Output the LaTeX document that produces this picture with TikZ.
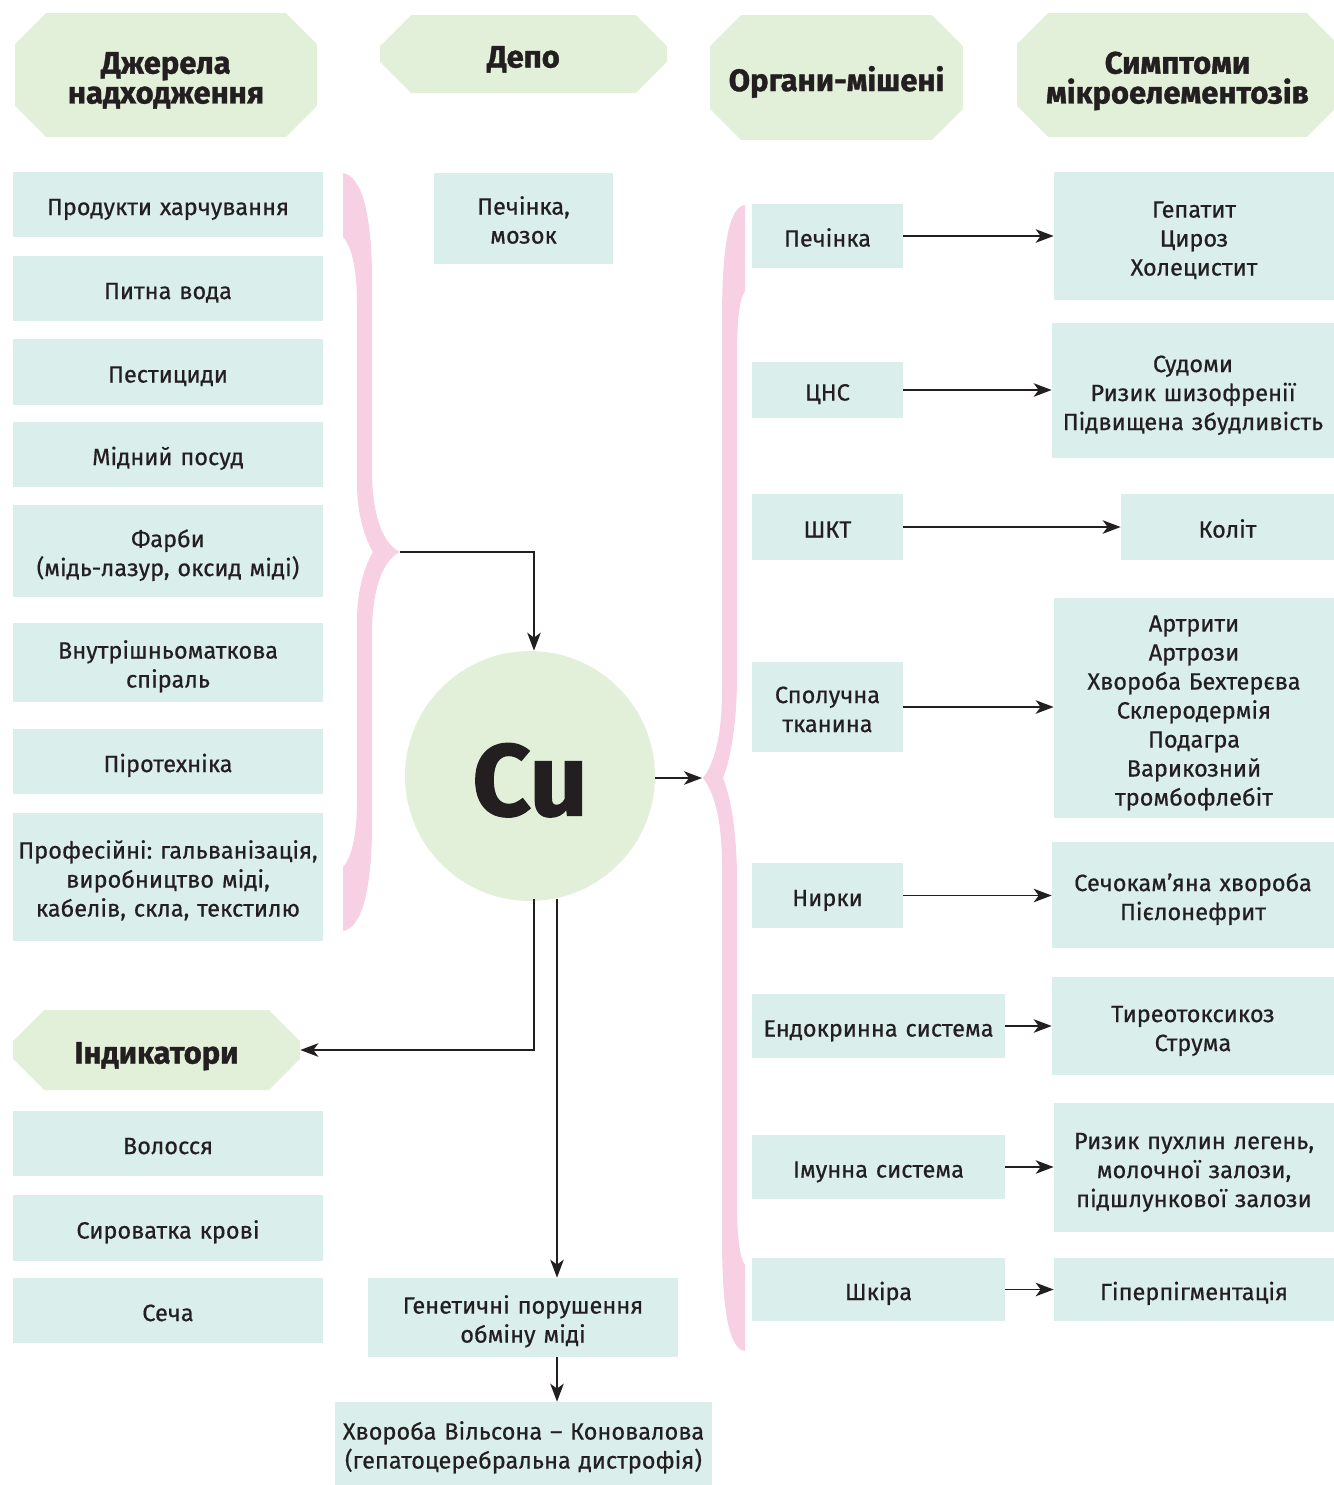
\documentclass[tikz,border=0pt]{standalone}
\usepackage{fontspec}
\setmainfont{Fira Sans}
\newfontfamily\itemfont{Fira Sans}[FakeBold=0.5]
\newfontfamily\headfont{Fira Sans}[BoldFeatures={FakeBold=1.2}]
\usetikzlibrary{arrows.meta,positioning,calc}
\frenchspacing

\definecolor{boxcyan}{HTML}{DAEEEB}
\definecolor{hdrgreen}{HTML}{E2F0D9}
\definecolor{bracepink}{HTML}{F7D1E3}
\definecolor{inkdark}{HTML}{231F20}

\tikzset{
  itembox/.style 2 args={minimum width=#1, text width=#1, minimum height=#2,
    fill=boxcyan, text=inkdark, align=center, inner sep=0pt,
    font=\itemfont\fontsize{13.4}{16.5}\selectfont,
    execute at begin node=\rule{0pt}{16pt},
    execute at end node=\rule[-4pt]{0pt}{4pt}},
  headbox/.style 2 args={minimum width=#1, text width=#1, minimum height=#2,
    text=inkdark, align=center, inner sep=0pt,
    font=\headfont\fontsize{17.6}{17}\selectfont\bfseries,
    execute at begin node=\rule{0pt}{20pt},
    execute at end node=\rule[-4.6pt]{0pt}{4.6pt},
    path picture={
      \fill[hdrgreen] ([xshift=0.62cm]path picture bounding box.north west)
        -- ([xshift=-0.62cm]path picture bounding box.north east)
        -- ([yshift=-0.62cm]path picture bounding box.north east)
        -- ([yshift=0.62cm]path picture bounding box.south east)
        -- ([xshift=-0.62cm]path picture bounding box.south east)
        -- ([xshift=0.62cm]path picture bounding box.south west)
        -- ([yshift=0.62cm]path picture bounding box.south west)
        -- ([yshift=-0.62cm]path picture bounding box.north west) -- cycle;
    }},
  flow/.style={draw=inkdark, line width=1.1pt,
    -{Stealth[length=0.36cm,width=0.27cm,inset=0.1cm]}},
}

\begin{document}
\begin{tikzpicture}[x=0.02cm, y=-0.02cm]
    \useasboundingbox (0,0) rectangle (1334,1485);

    % headers
    \node[headbox={6.04cm}{2.48cm}] (hsrc) at (166,75) {Джерела\\надходження};
    \node[headbox={5.74cm}{1.56cm}] (hdepo) at (523.5,54) {Депо};
    \node[headbox={5.06cm}{2.5cm}] (horg) at (836.5,77.5) {Органи-мішені};
    \node[headbox={6.42cm}{2.48cm}] (hsym) at (1177.5,75) {Симптоми\\мікроелементозів};
    \node[headbox={5.74cm}{1.6cm}] (hind) at (156.5,1050) {Індикатори};

    % sources
    \node[itembox={6.2cm}{1.3cm}] (food) at (168,204.5) {Продукти харчування};
    \node[itembox={6.2cm}{1.3cm}] (water) at (168,288.5) {Питна вода};
    \node[itembox={6.2cm}{1.32cm}] (pest) at (168,372) {Пестициди};
    \node[itembox={6.2cm}{1.3cm}] (pots) at (168,454.5) {Мідний посуд};
    \node[itembox={6.2cm}{1.84cm}] (paint) at (168,551) {Фарби\\(мідь-лазур, оксид міді)};
    \node[itembox={6.2cm}{1.58cm}] (iud) at (168,662.5) {Внутрішньоматкова\\спіраль};
    \node[itembox={6.2cm}{1.3cm}] (pyro) at (168,761.5) {Піротехніка};
    \node[itembox={6.2cm}{2.56cm}] (prof) at (168,877) {Професійні: гальванізація,\\виробництво міді,\\кабелів, скла, текстилю};

    % depot
    \node[itembox={3.58cm}{1.82cm}] (depo) at (523.5,218.5) {Печінка,\\мозок};

    % indicators
    \node[itembox={6.2cm}{1.3cm}] (hair) at (168,1143.5) {Волосся};
    \node[itembox={6.2cm}{1.32cm}] (serum) at (168,1228) {Сироватка крові};
    \node[itembox={6.2cm}{1.3cm}] (urine) at (168,1310.5) {Сеча};

    % copper
    \node[circle, fill=hdrgreen, minimum size=5cm, inner sep=0pt, text=inkdark,
      font=\headfont\fontsize{58}{58}\selectfont\bfseries] (cu) at (530,776) {\rule{0pt}{46pt}Cu};

    \node[itembox={6.2cm}{1.58cm}] (gen) at (523,1317.5) {Генетичні порушення\\обміну міді};
    \node[itembox={7.54cm}{1.66cm}] (wilson) at (523.5,1443.5) {Хвороба Вільсона – Коновалова\\(гепатоцеребральна дистрофія)};

    % target organs
    \node[itembox={3.02cm}{1.28cm}] (liver) at (827.5,236) {Печінка};
    \node[itembox={3.02cm}{1.12cm}] (cns) at (827.5,390) {ЦНС};
    \node[itembox={3.02cm}{1.32cm}] (git) at (827.5,527) {ШКТ};
    \node[itembox={3.02cm}{1.8cm}] (conn) at (827.5,707) {Сполучна\\тканина};
    \node[itembox={3.02cm}{1.3cm}] (kidney) at (827.5,895.5) {Нирки};
    \node[itembox={5.06cm}{1.28cm}] (endo) at (878.5,1026) {Ендокринна система};
    \node[itembox={5.06cm}{1.28cm}] (immune) at (878.5,1167) {Імунна система};
    \node[itembox={5.06cm}{1.26cm}] (skin) at (878.5,1289.5) {Шкіра};

    % symptoms
    \node[itembox={5.6cm}{2.56cm}] (symliver) at (1194,236) {Гепатит\\Цироз\\Холецистит};
    \node[itembox={5.64cm}{2.7cm}] (symcns) at (1193,390.5) {Судоми\\Ризик шизофренії\\Підвищена збудливість};
    \node[itembox={4.26cm}{1.32cm}] (symgit) at (1227.5,527) {Коліт};
    \node[itembox={5.6cm}{4.4cm}] (symconn) at (1194,708) {Артрити\\Артрози\\Хвороба Бехтерєва\\Склеродермія\\Подагра\\Варикозний\\тромбофлебіт};
    \node[itembox={5.64cm}{2.12cm}] (symkid) at (1193,895) {Сечокам’яна хвороба\\Пієлонефрит};
    \node[itembox={5.64cm}{1.96cm}] (symendo) at (1193,1026) {Тиреотоксикоз\\Струма};
    \node[itembox={5.6cm}{2.58cm}] (symimm) at (1194,1167.5) {Ризик пухлин легень,\\молочної залози,\\підшлункової залози};
    \node[itembox={5.6cm}{1.26cm}] (symskin) at (1194,1289.5) {Гіперпігментація};

    % braces
    \fill[bracepink] (343,173) .. controls (362,176) and (372,215) .. (372,280) -- (372,470)
      .. controls (372,520) and (385,545) .. (400,552)
      .. controls (385,559) and (372,584) .. (372,634) -- (372,824)
      .. controls (372,889) and (362,928) .. (343,931) -- (343,867)
      .. controls (350,860) and (357,840) .. (357,800) -- (357,620)
      .. controls (357,590) and (365,565) .. (373,552)
      .. controls (365,539) and (357,514) .. (357,484) -- (357,304)
      .. controls (357,264) and (350,244) .. (343,237) -- cycle;
    \fill[bracepink] (745,205) .. controls (730,207) and (722,240) .. (722,320) -- (722,690)
      .. controls (722,740) and (713,765) .. (703,778)
      .. controls (713,791) and (722,816) .. (722,866) -- (722,1236)
      .. controls (722,1316) and (730,1349) .. (745,1351) -- (745,1265)
      .. controls (740,1258) and (737,1240) .. (737,1200) -- (737,880)
      .. controls (737,830) and (730,795) .. (723,778)
      .. controls (730,761) and (737,726) .. (737,676) -- (737,356)
      .. controls (737,316) and (740,298) .. (745,291) -- cycle;
    \coordinate (ltip) at (400,552);
    \coordinate (rtip) at (702,778);
    \coordinate (cudown) at (534,899);
    \coordinate (gdown) at (557,899);

    % connectors
    \draw[flow] (ltip) -| (cudown |- cu.north);
    \draw[flow] (cu.east |- rtip) -- (rtip);
    \draw[flow] (cudown) |- (hind.east);
    \draw[flow] (gdown) -- (gdown |- gen.north);
    \draw[flow] (gen.south -| gdown) -- (wilson.north -| gdown);

    \draw[flow] (liver.east) -- (liver.east -| symliver.west);
    \draw[flow] (cns.east) -- (cns.east -| symcns.west);
    \draw[flow] (git.east) -- (git.east -| symgit.west);
    \draw[flow] (conn.east) -- (conn.east -| symconn.west);
    \draw[flow] (kidney.east) -- (kidney.east -| symkid.west);
    \draw[flow] (endo.east) -- (endo.east -| symendo.west);
    \draw[flow] (immune.east) -- (immune.east -| symimm.west);
    \draw[flow] (skin.east) -- (skin.east -| symskin.west);
\end{tikzpicture}
\end{document}
